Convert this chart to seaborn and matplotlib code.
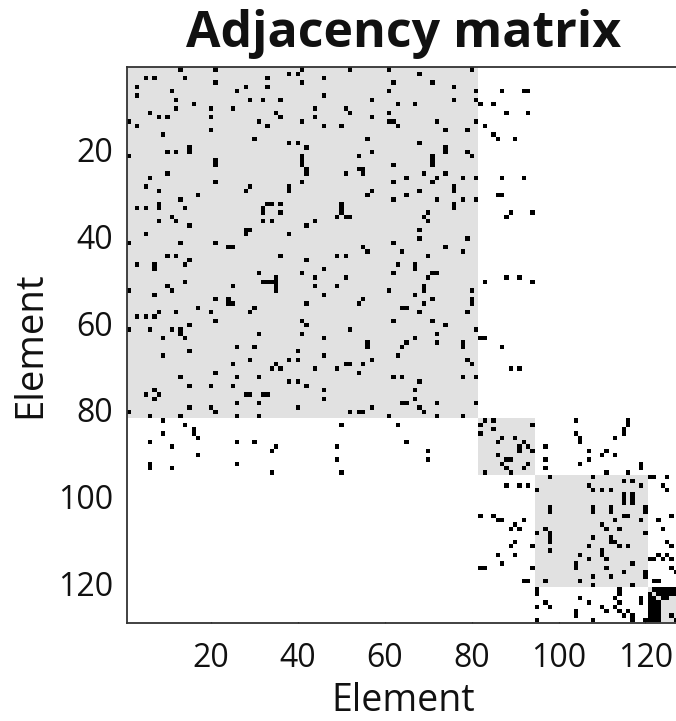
import numpy as np
import matplotlib
matplotlib.use("Agg")
import matplotlib.pyplot as plt
from matplotlib.colors import ListedColormap
from matplotlib.transforms import ScaledTranslation
import seaborn as sns

N_ELEMENTS = 128
block_ends = [81, 94, 120, 128]
tick_values = [20, 40, 60, 80, 100, 120]

# Column indices of the filled cells, listed per row (row number = position + first row)
rows_1_to_27 = [
    [13,21,41,52,61,80],[38,40,68],[5,7,14,33,46],[21,41,62,71],[3,28,33,76],
    [11,26,61,81,87,92,93],[3,46],[12,29,32,36,57,76,81],[16,63,67,82,85],[12,20,25,44,51],
    [6,35,52,61,88,93],[8,10,20,36,44,57],[1,31,41,61,62,72,81],[3,33,46,50,63,83],[20,74,79],
    [9,85],[30,56,86,90],[38,40,68],[15,42,74],[10,12,15,57,74,79],
    [1,41,54,71,80],[21,41,71],[21,41,62,71],[42,54,55],[10,42,51,55,69,74],
    [6,65,72,78,81,87,92],[21,41,62,71],
]
rows_28_to_54 = [
    [5,29,38,76],[8,28,38,57,68,76],[17,56,65,86,87],[13,62,72,78,81],[8,33,34,36,50,76],
    [3,5,8,14,32,50,76],[32,36,50,70,89,94],[11,49,51,52,69,88],[8,12,32,34,44,70],[15,42],
    [28,29,68],[5,28,38],[68,79],[1,13,21,62],[24,25,55,74],
    [56,64,78],[10,12,36,49,51,70],[15,42],[3,7,14,63,67],[7,46,67],
    [31,41,62,71,72],[35,44,51,70,88,91],[14,32,33,34,35,83,94],[10,25,35,44,49,69],[1,11,35,61,69,80],
    [7,46,67],[21,24,55,71,80],
]
rows_55_to_81 = [
    [24,25,42,54,69,80],[17,30,64,65],[8,12,20,29,68,79],[3,5,7],[21,41,62,71],
    [15,42,74],[1,6,11,13,52,81],[13,31,41,72],[9,14,46,67,82,83],[56,65,72,78],
    [26,30,56,64,78,87],[15,40],[9,46,63],[29,38,40,57,79],[25,35,51,52,55,80],
    [34,36,44,49,89,91],[21,54],[13,26,31,62,64,78,81],[38,40,68],[15,20,25,42],
    [7,46,67],[5,8,28,29,32,33],[7,46,67],[26,31,64,65,72,81],[15,20,40,57,68],
    [1,21,52,54,55,69],[6,13,26,31,61,72,78],
]
rows_82_to_103 = [
    [9,83,85,104,116],[14,50,63,82,94,116],[16,85,115],[9,16,82,104,115],[17,87,90,105,113],
    [6,26,30,65,86,92,105],[11,35,49,91,93,97],[34,70,91,94,107,111],[17,86,110,113],[49,70,88,89,97,107],
    [6,26,87,93,105,119],[6,11,88,92,97,119],[34,50,83,89,111,116],[98,108,121,122,125],[115,117],
    [88,91,93,107,119,124],[95,108,110,112,125],[115,117],[115,117],[115,117],
    [98,108,112,120],[98,108,112,120],
]
rows_104_to_120 = [
    [82,85,115,116,126],[86,87,92,113,119,123],[90,110],[89,91,97,111,114,124],[95,98,120],
    [98,108,112],[90,98,112,113,125],[89,94,107,114,116,126],[98,110],[86,90,105,110,123,125],
    [107,111,121,122,124,126],[87,104,117],[82,83,94,104,111,126],[115,120,127],[108,112,120],
    [92,93,97,105,122,123],[108,117],
]
rows_121_to_128 = [
    [95,114,122,123,124,125,126,127],[95,114,121,123,124,125,126,127],[105,113,119,121,122,124,125],
    [97,107,114,119,121,122,123],[95,98,110,113,121,122,123],[104,111,114,116,121,122,123],
    [104,115,117,121,122,123,126],[95,108,117,120,121,122,123,127],
]

row_groups = [(1, rows_1_to_27), (28, rows_28_to_54), (55, rows_55_to_81),
              (82, rows_82_to_103), (104, rows_104_to_120), (121, rows_121_to_128)]

matrix = np.zeros((N_ELEMENTS, N_ELEMENTS), dtype=int)
start = 0
for end in block_ends:
    matrix[start:end, start:end] = 1
    start = end
for first, group in row_groups:
    for offset, cols in enumerate(group):
        for c in cols:
            matrix[first + offset - 1, c - 1] = 2

sns.set_theme(style="white")
plt.rcParams["font.family"] = ["Open Sans", "DejaVu Sans"]

W, H = 676, 721
fig = plt.figure(figsize=(W / 100, H / 100), dpi=100)
ax = fig.add_axes([127 / W, 1 - 623 / H, (W - 127 + 2) / W, (623 - 67) / H])
sns.heatmap(matrix, ax=ax, cmap=ListedColormap(["#ffffff", "#e1e1e1", "#000000"]),
            vmin=0, vmax=2, cbar=False, square=False, linewidths=0, rasterized=True)
ax.set_xlim(0.15, 127.0)
ax.set_ylim(128.25, -0.1)

ax.set_xticks([v - 0.5 for v in tick_values], [str(v) for v in tick_values], rotation=0)
ax.set_yticks([v - 0.5 for v in tick_values], [str(v) for v in tick_values], rotation=0)
ax.tick_params(axis="both", which="both", direction="in", length=3, width=0.9,
               color="#222222", labelsize=23, labelcolor="#111111", top=True, bottom=True,
               left=True, right=False)
ax.tick_params(axis="x", pad=13.5)
ax.tick_params(axis="y", pad=10)
shift_down = ScaledTranslation(0, -2 / 100, fig.dpi_scale_trans)
for label in ax.get_yticklabels():
    label.set_transform(label.get_transform() + shift_down)
for name, sp in ax.spines.items():
    sp.set_visible(name != "right")
    sp.set_linewidth(1.3)
    sp.set_color("#333333")

fig.text(404 / W, 1 - 34 / H, "Adjacency matrix", ha="center", va="center",
         fontsize=36, fontweight="bold", color="#111111")
fig.text(403 / W, 1 - 711 / H, "Element", ha="center", va="baseline", fontsize=27, color="#111111")
fig.text(30 / W, 1 - 345 / H, "Element", ha="center", va="center", rotation=90,
         fontsize=27.5, color="#111111")
fig.savefig("out.png", dpi=100)
